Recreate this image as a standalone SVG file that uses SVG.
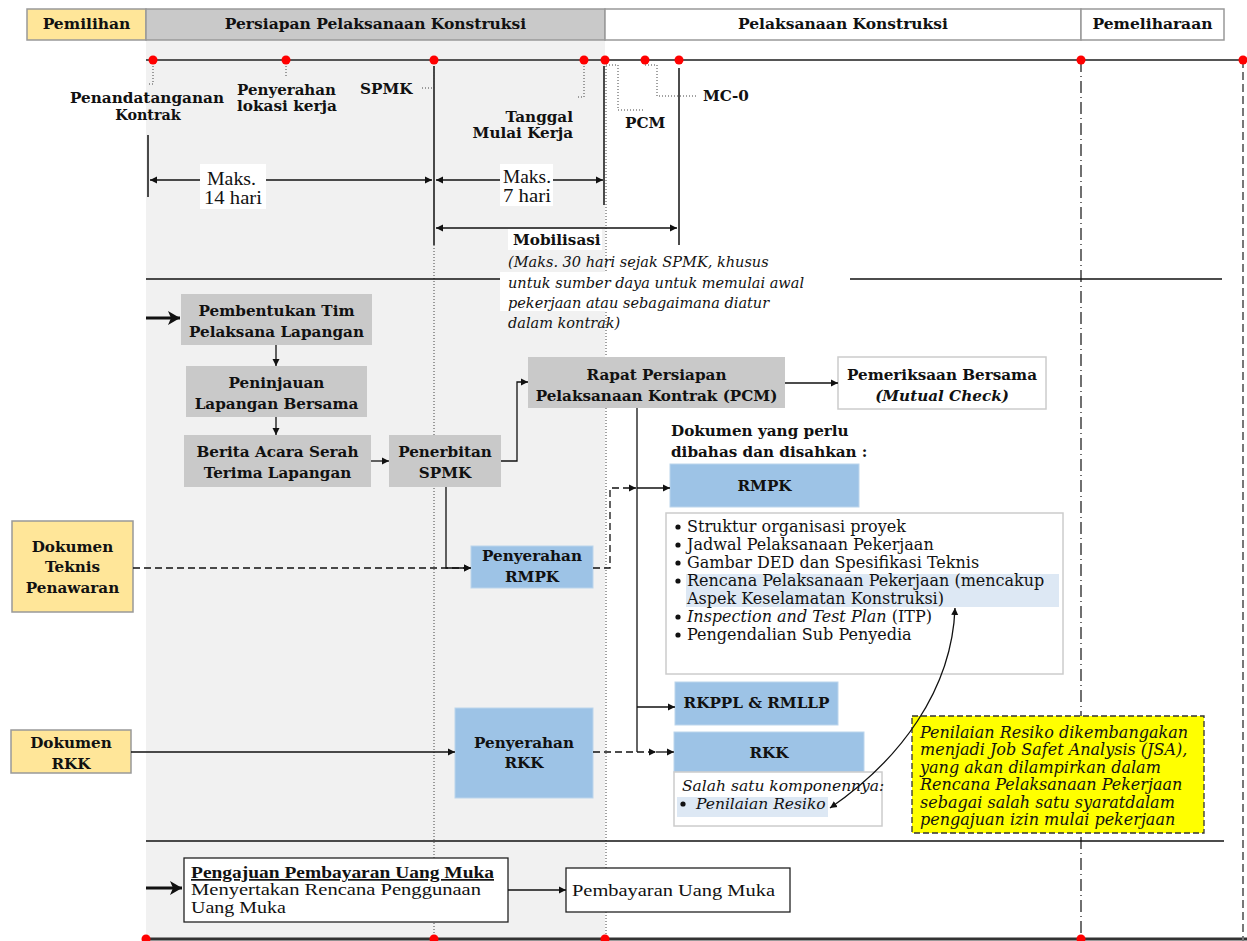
<svg xmlns="http://www.w3.org/2000/svg" width="1247" height="941" viewBox="0 0 1247 941">
<style>
text{font-family:"DejaVu Serif","Liberation Serif",serif;fill:#111}
.b{font-weight:bold;font-size:15.2px}
.s{font-weight:bold;font-size:14.3px}
.h{font-weight:bold;font-size:15.5px}
.r{font-size:16px}
.i{font-style:italic;font-size:14.5px}
.y{font-style:italic;font-size:16px}
.c{text-anchor:middle}
.t{font-family:"Liberation Serif",serif;font-size:17px}
.m{font-family:"Liberation Serif",serif;font-size:19px}
.gray{fill:#c9c9c9}
.blue{fill:#9dc3e6;stroke:#bcd5ec;stroke-width:1}
.yel{fill:#ffe699;stroke:#999;stroke-width:1.5}
.ln{fill:none;stroke:#111;stroke-width:1.3}
.dsh{fill:none;stroke:#111;stroke-width:1.3;stroke-dasharray:7 4}
.dot{fill:none;stroke:#444;stroke-width:1;stroke-dasharray:1 2}
.red{fill:#f00}
</style>
<defs>
<marker id="a" markerUnits="userSpaceOnUse" markerWidth="8" markerHeight="8" refX="7" refY="4" orient="auto-start-reverse"><path d="M0,0.5 L7,4 L0,7.5z" fill="#111"/></marker>
<marker id="big" markerUnits="userSpaceOnUse" markerWidth="14" markerHeight="14" refX="12" refY="7" orient="auto"><path d="M0,0 L12,7 L0,14 L3,7z" fill="#111"/></marker>
</defs>

<!-- background shading -->
<rect x="146" y="40" width="459" height="901" fill="#f1f1f1"/>

<!-- header -->
<g id="header">
<rect x="27" y="9" width="119" height="31" fill="#ffe699" stroke="#999" stroke-width="1.5"/>
<rect x="146" y="9" width="459" height="31" fill="#c9c9c9" stroke="#999" stroke-width="1.5"/>
<rect x="605" y="9" width="476" height="31" fill="#fff" stroke="#999" stroke-width="1.5"/>
<rect x="1081" y="9" width="143" height="31" fill="#fff" stroke="#999" stroke-width="1.5"/>
<text class="h c" x="86.5" y="29">Pemilihan</text>
<text class="h c" x="375.5" y="29">Persiapan Pelaksanaan Konstruksi</text>
<text class="h c" x="843" y="29">Pelaksanaan Konstruksi</text>
<text class="h c" x="1152.5" y="29">Pemeliharaan</text>
</g>

<!-- timeline -->
<g id="timeline">
<line x1="146" y1="60" x2="1247" y2="60" stroke="#555" stroke-width="2"/>
<line x1="146" y1="939" x2="1247" y2="939" stroke="#333" stroke-width="3"/>
<line x1="1081" y1="60" x2="1081" y2="941" stroke="#111" stroke-width="1.2" stroke-dasharray="12 4 1 4"/>
<line x1="1243" y1="60" x2="1243" y2="941" stroke="#777" stroke-width="2" stroke-dasharray="8 4"/>
<line x1="434" y1="245" x2="434" y2="939" class="dot"/>
<line x1="606" y1="60" x2="606" y2="939" class="dot"/>
<line x1="148" y1="135" x2="148" y2="197" stroke="#111" stroke-width="1.5"/>
<line x1="434" y1="66" x2="434" y2="245" stroke="#111" stroke-width="1.5"/>
<line x1="604" y1="66" x2="604" y2="205" stroke="#111" stroke-width="1.5"/>
<line x1="679" y1="68" x2="679" y2="245" stroke="#111" stroke-width="1.5"/>
<path class="dot" d="M153 60 V84 H148"/>
<path class="dot" d="M286 60 V78"/>
<path class="dot" d="M434 60 V88 H420"/>
<path class="dot" d="M584 60 V97 H578"/>
<path class="dot" d="M606 65 H618 V110 H643"/>
<path class="dot" d="M645 65 H657 V96 H697"/>
<g class="red">
<circle cx="153" cy="60" r="4.5"/><circle cx="286" cy="60" r="4.5"/><circle cx="434" cy="60" r="4.5"/>
<circle cx="584" cy="60" r="4.5"/><circle cx="605" cy="60" r="4.5"/><circle cx="645" cy="60" r="4.5"/>
<circle cx="679" cy="60" r="4.5"/><circle cx="1081" cy="60" r="4.5"/><circle cx="1243" cy="60" r="4.5"/>
<circle cx="146" cy="939" r="4.5"/><circle cx="434" cy="939" r="4.5"/><circle cx="605" cy="939" r="4.5"/><circle cx="1081" cy="939" r="4.5"/>
</g>
<text class="b c" x="147" y="103" textLength="154" lengthAdjust="spacingAndGlyphs">Penandatanganan</text>
<text class="s c" x="148" y="120">Kontrak</text>
<text class="s" x="237" y="95" textLength="99" lengthAdjust="spacingAndGlyphs">Penyerahan</text>
<text class="s" x="237" y="111" textLength="100" lengthAdjust="spacingAndGlyphs">lokasi kerja</text>
<text class="b" x="360" y="94">SPMK</text>
<text class="b" x="573" y="122" text-anchor="end">Tanggal</text>
<text class="b" x="573" y="138" text-anchor="end">Mulai Kerja</text>
<text class="b" x="625" y="128">PCM</text>
<text class="b" x="703" y="101">MC-0</text>
<line x1="150" y1="180" x2="432" y2="180" class="ln" marker-start="url(#a)" marker-end="url(#a)"/>
<line x1="436" y1="180" x2="603" y2="180" class="ln" marker-start="url(#a)" marker-end="url(#a)"/>
<line x1="436" y1="228" x2="677" y2="228" class="ln" marker-start="url(#a)" marker-end="url(#a)"/>
<rect x="200" y="164" width="66" height="45" fill="#fff"/>
<rect x="500" y="164" width="53" height="42" fill="#fff"/>
<rect x="508" y="229" width="94" height="21" fill="#fff"/>
<text class="m" x="207" y="185" textLength="49" lengthAdjust="spacingAndGlyphs">Maks.</text>
<text class="m" x="204" y="204" textLength="58" lengthAdjust="spacingAndGlyphs">14 hari</text>
<text class="m" x="503" y="183" textLength="48" lengthAdjust="spacingAndGlyphs">Maks.</text>
<text class="m" x="503" y="202" textLength="48" lengthAdjust="spacingAndGlyphs">7 hari</text>
<text class="b" x="513" y="245">Mobilisasi</text>
</g>

<!-- separators -->
<line x1="146" y1="279" x2="1222" y2="279" stroke="#111" stroke-width="1.5"/>
<line x1="146" y1="841" x2="1224" y2="841" stroke="#111" stroke-width="1.5"/>
<rect x="500" y="272" width="350" height="39" fill="#fff"/>
<g id="mobilisasi-note">
<text class="i" x="508" y="267" fill="#333">(Maks. 30 hari sejak SPMK, khusus</text>
<text class="i" x="508" y="288">untuk sumber daya untuk memulai awal</text>
<text class="i" x="508" y="308">pekerjaan atau sebagaimana diatur</text>
<text class="i" x="508" y="328">dalam kontrak)</text>
</g>

<!-- nodes -->
<g id="n-pembentukan"><rect class="gray" x="181" y="294" width="191" height="51"/>
<text class="b c" x="276.5" y="316">Pembentukan Tim</text><text class="b c" x="276.5" y="337">Pelaksana Lapangan</text></g>
<g id="n-peninjauan"><rect class="gray" x="186" y="366" width="181" height="51"/>
<text class="b c" x="276.5" y="388">Peninjauan</text><text class="b c" x="276.5" y="409">Lapangan Bersama</text></g>
<g id="n-berita"><rect class="gray" x="184" y="435" width="187" height="52"/>
<text class="b c" x="277.5" y="457">Berita Acara Serah</text><text class="b c" x="277.5" y="478">Terima Lapangan</text></g>
<g id="n-penerbitan"><rect class="gray" x="389" y="435" width="112" height="52"/>
<text class="b c" x="445" y="457">Penerbitan</text><text class="b c" x="445" y="478">SPMK</text></g>
<g id="n-pcm"><rect class="gray" x="528" y="357" width="257" height="51"/>
<text class="b c" x="656.5" y="380">Rapat Persiapan</text><text class="b c" x="656.5" y="401">Pelaksanaan Kontrak (PCM)</text></g>
<g id="n-mutual"><rect x="838" y="357" width="208" height="52" fill="#fff" stroke="#ccc" stroke-width="1.5"/>
<text class="b c" x="942" y="380">Pemeriksaan Bersama</text><text class="b c" x="942" y="401" font-style="italic">(Mutual Check)</text></g>
<g id="n-dokumen-label">
<text class="b" x="671" y="436">Dokumen yang perlu</text><text class="b" x="671" y="457">dibahas dan disahkan :</text></g>
<g id="n-rmpk"><rect class="blue" x="670" y="464" width="189" height="43"/>
<text class="b c" x="764.5" y="491">RMPK</text></g>
<g id="n-list"><rect x="666" y="513" width="397" height="161" fill="#fff" stroke="#ccc" stroke-width="1.5"/>
<rect x="686" y="574" width="373" height="33" fill="#dde8f4"/>
<g fill="#111"><circle cx="678" cy="527" r="2.6"/><circle cx="678" cy="545" r="2.6"/><circle cx="678" cy="563" r="2.6"/><circle cx="678" cy="581" r="2.6"/><circle cx="678" cy="617" r="2.6"/><circle cx="678" cy="635" r="2.6"/></g>
<text class="r" x="687" y="532">Struktur organisasi proyek</text>
<text class="r" x="687" y="550">Jadwal Pelaksanaan Pekerjaan</text>
<text class="r" x="687" y="568">Gambar DED dan Spesifikasi Teknis</text>
<text class="r" x="687" y="586" fill="#2b3a55">Rencana Pelaksanaan Pekerjaan (mencakup</text>
<text class="r" x="687" y="604" fill="#2b3a55">Aspek Keselamatan Konstruksi)</text>
<text class="r" x="687" y="622"><tspan font-style="italic">Inspection and Test Plan</tspan> (ITP)</text>
<text class="r" x="687" y="640">Pengendalian Sub Penyedia</text></g>
<g id="n-rkppl"><rect class="blue" x="675" y="682" width="163" height="43"/>
<text class="b c" x="756.5" y="708">RKPPL &amp; RMLLP</text></g>
<g id="n-rkk"><rect class="blue" x="674" y="732" width="190" height="40"/>
<text class="b c" x="769" y="758">RKK</text></g>
<g id="n-rkk-comp"><rect x="674" y="772" width="208" height="54" fill="#fff" stroke="#ccc" stroke-width="1.5"/>
<rect x="677" y="797" width="151" height="20" fill="#dde8f4"/>
<text class="y" x="682" y="791" style="font-size:15.5px">Salah satu komponennya:</text>
<circle cx="683" cy="804" r="2.6" fill="#111"/>
<text class="y" x="696" y="809" fill="#2b3a55" style="font-size:15.5px">Penilaian Resiko</text></g>
<g id="n-jsa"><rect x="912" y="716" width="292" height="117" fill="#ffff00" stroke="#333" stroke-width="1.3" stroke-dasharray="6 3"/>
<text class="y" x="920" y="738">Penilaian Resiko dikembangakan</text>
<text class="y" x="920" y="755">menjadi Job Safet Analysis (JSA),</text>
<text class="y" x="920" y="773">yang akan dilampirkan dalam</text>
<text class="y" x="920" y="790">Rencana Pelaksanaan Pekerjaan</text>
<text class="y" x="920" y="808">sebagai salah satu syaratdalam</text>
<text class="y" x="920" y="825">pengajuan izin mulai pekerjaan</text></g>
<g id="n-dok-teknis"><rect class="yel" x="12" y="521" width="121" height="91"/>
<text class="b c" x="72.5" y="552">Dokumen</text><text class="b c" x="72.5" y="572">Teknis</text><text class="b c" x="72.5" y="593">Penawaran</text></g>
<g id="n-dok-rkk"><rect class="yel" x="11" y="730" width="120" height="43"/>
<text class="b c" x="71" y="748">Dokumen</text><text class="b c" x="71" y="769">RKK</text></g>
<g id="n-pen-rmpk"><rect class="blue" x="471" y="546" width="122" height="42"/>
<text class="b c" x="532" y="561">Penyerahan</text><text class="b c" x="532" y="582">RMPK</text></g>
<g id="n-pen-rkk"><rect class="blue" x="455" y="708" width="138" height="90"/>
<text class="b c" x="524" y="748">Penyerahan</text><text class="b c" x="524" y="768">RKK</text></g>
<g id="n-pengajuan"><rect x="184" y="858" width="324" height="64" fill="#fff" stroke="#222" stroke-width="1.3"/>
<text class="t" x="191" y="878" font-weight="bold" text-decoration="underline" textLength="303" lengthAdjust="spacingAndGlyphs">Pengajuan Pembayaran Uang Muka</text>
<text class="t" x="191" y="895" textLength="290" lengthAdjust="spacingAndGlyphs">Menyertakan Rencana Penggunaan</text>
<text class="t" x="191" y="913" textLength="95" lengthAdjust="spacingAndGlyphs">Uang Muka</text></g>
<g id="n-pembayaran"><rect x="566" y="868" width="224" height="44" fill="#fff" stroke="#222" stroke-width="1.3"/>
<text class="t" x="572" y="896" textLength="203" lengthAdjust="spacingAndGlyphs">Pembayaran Uang Muka</text></g>

<!-- connectors -->
<g id="connectors">
<path d="M146 318 H180" stroke="#111" stroke-width="3" fill="none" marker-end="url(#big)"/>
<path d="M146 888 H182" stroke="#111" stroke-width="3" fill="none" marker-end="url(#big)"/>
<path class="ln" d="M276 345 V366" marker-end="url(#a)"/>
<path class="ln" d="M276 417 V435" marker-end="url(#a)"/>
<path class="ln" d="M371 461 H389" marker-end="url(#a)"/>
<path class="ln" d="M501 461 H517 V382 H528" marker-end="url(#a)"/>
<path class="ln" d="M785 383 H838" marker-end="url(#a)"/>
<path class="dsh" d="M133 568 H471" marker-end="url(#a)"/>
<path class="ln" d="M446 487 V568 H471" marker-end="url(#a)"/>
<path class="dsh" d="M593 568 H610 V488 H636" marker-end="url(#a)"/>
<path class="ln" d="M637 408 V752"/>
<path class="ln" d="M637 488 H670" marker-end="url(#a)"/>
<path class="ln" d="M637 707 H675" marker-end="url(#a)"/>
<path class="ln" d="M131 752 H455" marker-end="url(#a)"/>
<path class="dsh" d="M593 752 H656" marker-end="url(#a)"/>
<path class="ln" d="M656 752 H674" marker-end="url(#a)"/>
<path class="ln" d="M508 890 H566" marker-end="url(#a)"/>
<path class="ln" d="M955 608 C952 690 900 760 830 808" marker-start="url(#a)" marker-end="url(#a)"/>
</g>
</svg>
